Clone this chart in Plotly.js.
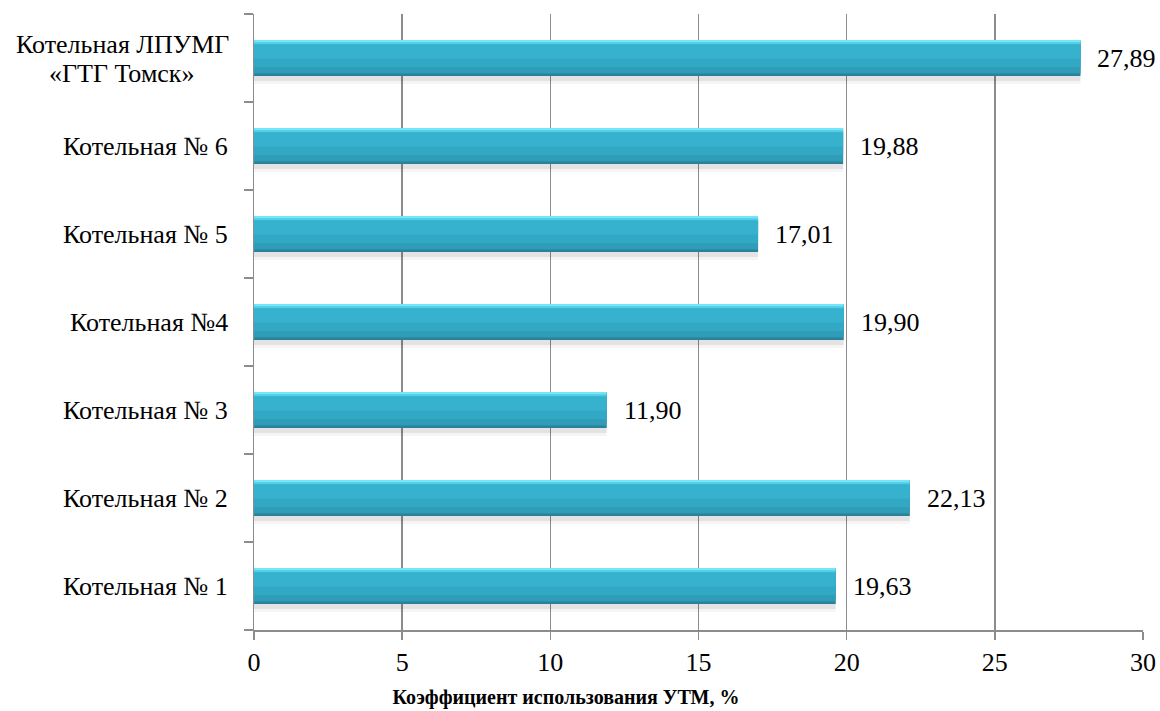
<!DOCTYPE html>
<html><head><meta charset="utf-8">
<script src="https://cdn.plot.ly/plotly-3.0.1.min.js"></script>
<style>html,body{margin:0;padding:0;background:#fff;}#chart{width:1160px;height:711px;}</style>
</head><body><div id="chart"></div>
<script>
// Categories listed bottom to top
const categories = [
  "Котельная № 1",
  "Котельная № 2",
  "Котельная № 3",
  "Котельная №4",
  "Котельная № 5",
  "Котельная № 6",
  "Котельная ЛПУМГ<br>«ГТГ Томск»"
];
const values = [19.63, 22.13, 11.90, 19.90, 17.01, 19.88, 27.89];
const xTickVals = [0, 5, 10, 15, 20, 25, 30];
const xTitle = "Коэффициент использования УТМ, %";

const FONT = "Liberation Serif";
const W = 0.41;

function layer(color, offset, width) {
  return {
    type: "bar", orientation: "h",
    x: values, y: categories,
    width: width, offset: offset,
    marker: {color: color, line: {width: 0}},
    hoverinfo: "skip", showlegend: false
  };
}

const traces = [
  layer("rgba(0,0,0,0.04)", -W/2 - 0.09, W + 0.02),
  layer("rgba(0,0,0,0.07)", -W/2 - 0.055, W),
  layer("#2a8198", -W/2, W),
  layer("#2f9cb8", -W/2 + 0.03, W - 0.05),
  layer("#33a8c4", -W/2 + 0.10, W - 0.14),
  layer("#37b2ce", -W/2 + 0.20, W - 0.25),
  layer("#4fcde6", W/2 - 0.05, 0.025),
  layer("#72e5f6", W/2 - 0.028, 0.028)
];

const fmt = v => v.toFixed(2).replace(".", ",");

const annotations = [];
values.forEach((v, i) => {
  annotations.push({
    x: v, y: categories[i], xref: "x", yref: "y",
    text: fmt(v), showarrow: false, xanchor: "left", yanchor: "middle",
    xshift: 15, font: {family: FONT, size: 26, color: "#000"}
  });
  const lines = categories[i].split("<br>");
  if (lines.length === 1) {
    annotations.push({
      x: 0, y: categories[i], xref: "paper", yref: "y",
      text: lines[0], showarrow: false, xanchor: "right", yanchor: "middle",
      xshift: -24, font: {family: FONT, size: 26, color: "#000"}
    });
  } else {
    lines.forEach((ln, k) => {
      annotations.push({
        x: 0, y: categories[i], xref: "paper", yref: "y",
        text: ln, showarrow: false, xanchor: "center", yanchor: "middle",
        xshift: -132, yshift: ((lines.length - 1) / 2 - k) * 29 - 1,
        font: {family: FONT, size: 26, color: "#000"}
      });
    });
  }
});

const layout = {
  width: 1160, height: 711,
  margin: {l: 254, r: 17, t: 14, b: 81},
  paper_bgcolor: "#fff", plot_bgcolor: "#fff",
  barmode: "overlay",
  title: {
    text: "<b>" + xTitle + "</b>",
    xref: "container", yref: "container",
    x: 566/1160, y: 1 - 697/711, xanchor: "center", yanchor: "middle",
    font: {family: FONT, size: 20, color: "#000"}
  },
  xaxis: {
    range: [0, 30], tickvals: xTickVals, ticktext: xTickVals.map(String),
    showgrid: true, gridcolor: "#8c8c8c", gridwidth: 1.5,
    zeroline: false, showline: true, linecolor: "#8c8c8c", linewidth: 1.5,
    ticks: "outside", ticklen: 8, tickwidth: 1.5, tickcolor: "#8c8c8c",
    tickfont: {family: FONT, size: 26, color: "#000"},
    ticklabelstandoff: 0, fixedrange: true
  },
  yaxis: {
    type: "category", categoryorder: "array", categoryarray: categories,
    range: [-0.5, categories.length - 0.5],
    showgrid: false, zeroline: false, showline: true, linecolor: "#8c8c8c", linewidth: 1.5,
    ticks: "outside", tickson: "boundaries", ticklen: 9, tickwidth: 1.5, tickcolor: "#8c8c8c",
    showticklabels: false, fixedrange: true
  },
  annotations: annotations,
  font: {family: FONT}
};

Plotly.newPlot("chart", traces, layout, {displayModeBar: false, staticPlot: true});
</script>
</body></html>
